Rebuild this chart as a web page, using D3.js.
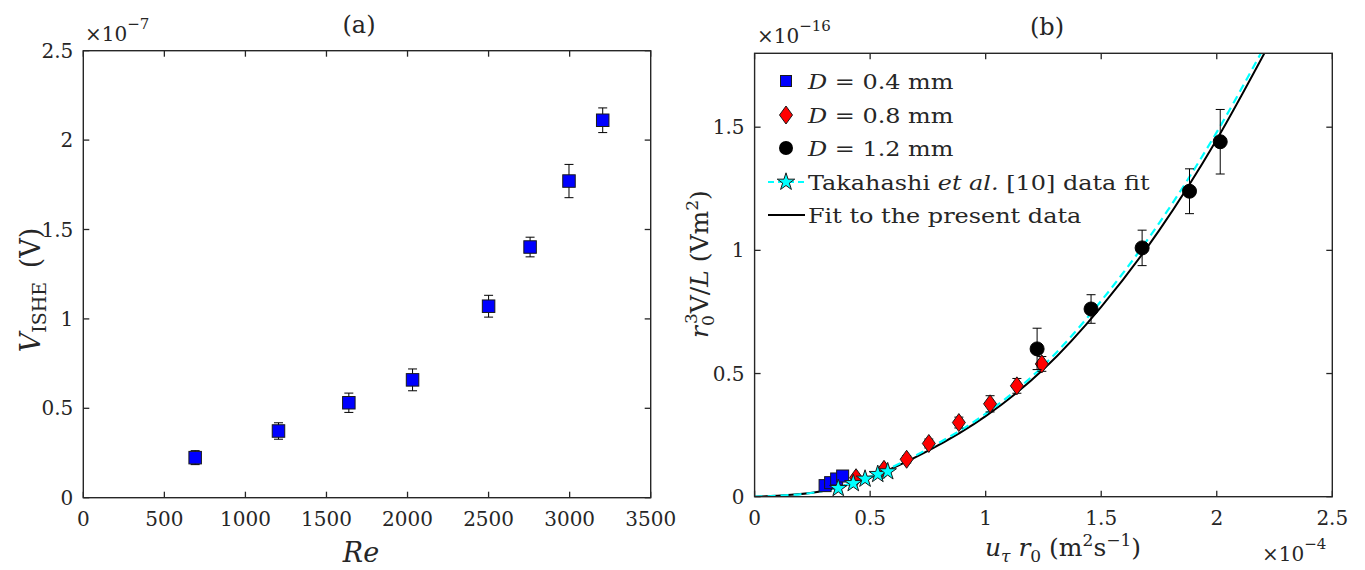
<!DOCTYPE html>
<html><head><meta charset="utf-8">
<script src="https://cdn.jsdelivr.net/npm/d3@7"></script>
<style>
html,body{margin:0;padding:0;background:#fff;}
svg text{font-family:"DejaVu Serif",serif;fill:#262626;}
</style></head>
<body>
<svg id="c" width="1365" height="570"></svg>
<script>
// ---------- DATA ----------
// Panel (a)
const reValues = [690, 1204, 1638, 2031, 2500, 2756, 2996, 3204];
const vIshe = [0.224, 0.373, 0.531, 0.659, 1.071, 1.402, 1.771, 2.111]; // x1e-7 V
const vIsheErr = [0.039, 0.046, 0.054, 0.061, 0.061, 0.055, 0.093, 0.069];
const aXTicks = [0, 500, 1000, 1500, 2000, 2500, 3000, 3500];
const aYTicks = [0, 0.5, 1, 1.5, 2, 2.5];
const aYTickLabels = ["0", "0.5", "1", "1.5", "2", "2.5"];

// Panel (b)  (x in 1e-4 m^2 s^-1, y in 1e-16 V m^2)
const sqU = [0.305, 0.329, 0.355, 0.381];
const sqV = [0.045, 0.057, 0.072, 0.084];
const diaU = [0.439, 0.560, 0.658, 0.754, 0.884, 1.019, 1.135, 1.243];
const diaV = [0.077, 0.111, 0.152, 0.216, 0.301, 0.377, 0.450, 0.539];
const diaErr = [0.010, 0.012, 0.015, 0.018, 0.022, 0.033, 0.030, 0.030];
const circU = [1.2225, 1.456, 1.677, 1.882, 2.015];
const circV = [0.600, 0.762, 1.010, 1.240, 1.441];
const circErr = [0.084, 0.058, 0.072, 0.091, 0.131];
const starU = [0.362, 0.427, 0.478, 0.533, 0.576];
const starV = [0.034, 0.054, 0.072, 0.091, 0.102];
const fitU = [0, 0.25, 0.5, 0.75, 1.0, 1.25, 1.5, 1.75, 2.0, 2.206];
const fitV = [0, 0.016, 0.079, 0.186, 0.327, 0.517, 0.771, 1.08, 1.45, 1.80];
const takU = [0, 0.25, 0.5, 0.75, 1.0, 1.25, 1.5, 1.75, 2.0, 2.191];
const takV = [0, 0.016, 0.082, 0.194, 0.337, 0.532, 0.795, 1.11, 1.48, 1.80];
const bXTicks = [0, 0.5, 1, 1.5, 2, 2.5];
const bXTickLabels = ["0", "0.5", "1", "1.5", "2", "2.5"];
const bYTicks = [0, 0.5, 1, 1.5];
const bYTickLabels = ["0", "0.5", "1", "1.5"];
const legendLabels = ["D = 0.4 mm", "D = 0.8 mm", "D = 1.2 mm", "Takahashi et al. [10] data fit", "Fit to the present data"];

// ---------- DRAW ----------
const svg = d3.select("#c");
const AX = "#262626";
const TICKFS = 20;

function frame(g, x, y, xt, xtl, yt, ytl) {
  const [x0, x1] = x.range(), [y0, y1] = y.range();
  const tl = 6;
  xt.forEach((t, i) => {
    const px = x(t);
    g.append("line").attr("x1", px).attr("x2", px).attr("y1", y0).attr("y2", y0 - tl).attr("stroke", AX).attr("stroke-width", 1.3);
    g.append("line").attr("x1", px).attr("x2", px).attr("y1", y1).attr("y2", y1 + tl).attr("stroke", AX).attr("stroke-width", 1.3);
    g.append("text").attr("x", px).attr("y", y0 + 28).attr("text-anchor", "middle").attr("font-size", TICKFS).text(xtl[i]);
  });
  yt.forEach((t, i) => {
    const py = y(t);
    g.append("line").attr("x1", x0).attr("x2", x0 + tl).attr("y1", py).attr("y2", py).attr("stroke", AX).attr("stroke-width", 1.3);
    g.append("line").attr("x1", x1).attr("x2", x1 - tl).attr("y1", py).attr("y2", py).attr("stroke", AX).attr("stroke-width", 1.3);
    g.append("text").attr("x", x0 - 10).attr("y", py + 7).attr("text-anchor", "end").attr("font-size", TICKFS).text(ytl[i]);
  });
  g.append("rect").attr("x", x0).attr("y", y1).attr("width", x1 - x0).attr("height", y0 - y1)
    .attr("fill", "none").attr("stroke", AX).attr("stroke-width", 1.4);
}

function errBars(g, xs, ys, es, x, y) {
  xs.forEach((u, i) => {
    const px = x(u), pt = y(ys[i] + es[i]), pb = y(ys[i] - es[i]);
    g.append("line").attr("x1", px).attr("x2", px).attr("y1", pt).attr("y2", pb).attr("stroke", "#000").attr("stroke-width", 1);
    [pt, pb].forEach(p => g.append("line").attr("x1", px - 4.5).attr("x2", px + 4.5).attr("y1", p).attr("y2", p).attr("stroke", "#000").attr("stroke-width", 1));
  });
}

// ===== Panel (a) =====
const ga = svg.append("g");
const xa = d3.scaleLinear().domain([0, 3500]).range([83.3, 650.7]);
const ya = d3.scaleLinear().domain([0, 2.5]).range([497.7, 50.7]);

errBars(ga, reValues, vIshe, vIsheErr, xa, ya);
const sqA = 12.5;
ga.selectAll("rect.pt").data(reValues).enter().append("rect")
  .attr("x", (d) => xa(d) - sqA / 2).attr("y", (d, i) => ya(vIshe[i]) - sqA / 2)
  .attr("width", sqA).attr("height", sqA).attr("fill", "#0000ff").attr("stroke", "#1a1a1a").attr("stroke-width", 1);
frame(ga, xa, ya, aXTicks, aXTicks.map(String), aYTicks, aYTickLabels);

{
  const t = ga.append("text").attr("x", 85).attr("y", 41).attr("font-size", 20);
  t.append("tspan").text("×10");
  t.append("tspan").attr("dy", -12).attr("font-size", 15).text("−7");
}
ga.append("text").attr("x", 359).attr("y", 33).attr("text-anchor", "middle").attr("font-size", 24).text("(a)");
ga.append("text").attr("x", 361).attr("y", 562).attr("text-anchor", "middle").attr("font-size", 27).attr("font-style", "italic").text("Re");
{
  const t = ga.append("text").attr("transform", "translate(40,290) rotate(-90)").attr("text-anchor", "middle").attr("font-size", 27);
  t.append("tspan").attr("font-style", "italic").text("V");
  t.append("tspan").attr("dy", 6).attr("font-size", 19).text("ISHE");
  t.append("tspan").attr("dy", -6).text("\u2002(V)");
}

// ===== Panel (b) =====
const gb = svg.append("g");
const xb = d3.scaleLinear().domain([0, 2.5]).range([754.6, 1332.3]);
const yb = d3.scaleLinear().domain([0, 1.8]).range([496.7, 53.3]);

gb.append("clipPath").attr("id", "clipb").append("rect")
  .attr("x", 754.6).attr("y", 53.3).attr("width", 1332.3 - 754.6).attr("height", 496.7 - 53.3);
const lineGen = d3.line().curve(d3.curveMonotoneX);
gb.append("path").attr("clip-path", "url(#clipb)")
  .attr("d", lineGen(fitU.map((u, i) => [xb(u), yb(fitV[i])])))
  .attr("fill", "none").attr("stroke", "#000").attr("stroke-width", 2);
gb.append("path").attr("clip-path", "url(#clipb)")
  .attr("d", lineGen(takU.map((u, i) => [xb(u), yb(takV[i])])))
  .attr("fill", "none").attr("stroke", "#00ffff").attr("stroke-width", 2.2).attr("stroke-dasharray", "8,5");

const sqB = 12;
gb.selectAll("rect.sq").data(sqU).enter().append("rect")
  .attr("x", d => xb(d) - sqB / 2).attr("y", (d, i) => yb(sqV[i]) - sqB / 2)
  .attr("width", sqB).attr("height", sqB).attr("fill", "#0000ff").attr("stroke", "#1a1a1a").attr("stroke-width", 1);

errBars(gb, diaU, diaV, diaErr, xb, yb);
const diamondPath = (cx, cy) => `M${cx},${cy - 9}L${cx + 6.5},${cy}L${cx},${cy + 9}L${cx - 6.5},${cy}Z`;
gb.selectAll("path.dia").data(diaU).enter().append("path")
  .attr("d", (d, i) => diamondPath(xb(d), yb(diaV[i])))
  .attr("fill", "#ff0000").attr("stroke", "#1a1a1a").attr("stroke-width", 1);

errBars(gb, circU, circV, circErr, xb, yb);
gb.selectAll("circle.c").data(circU).enter().append("circle")
  .attr("cx", d => xb(d)).attr("cy", (d, i) => yb(circV[i])).attr("r", 7)
  .attr("fill", "#000").attr("stroke", "#000");

const starSym = d3.symbol().type(d3.symbolStar).size(95);
gb.selectAll("path.st").data(starU).enter().append("path")
  .attr("transform", (d, i) => `translate(${xb(d)},${yb(starV[i])})`)
  .attr("d", starSym).attr("fill", "#00ffff").attr("stroke", "#1a1a1a").attr("stroke-width", 1);

frame(gb, xb, yb, bXTicks, bXTickLabels, bYTicks, bYTickLabels);

{
  const t = gb.append("text").attr("x", 757).attr("y", 43).attr("font-size", 20);
  t.append("tspan").text("×10");
  t.append("tspan").attr("dy", -12).attr("font-size", 15).text("−16");
}
{
  const t = gb.append("text").attr("x", 1262).attr("y", 561).attr("font-size", 20);
  t.append("tspan").text("×10");
  t.append("tspan").attr("dy", -12).attr("font-size", 15).text("−4");
}
gb.append("text").attr("x", 1047).attr("y", 35).attr("text-anchor", "middle").attr("font-size", 24).text("(b)");
{
  const t = gb.append("text").attr("x", 1063).attr("y", 556).attr("text-anchor", "middle").attr("font-size", 25);
  t.append("tspan").attr("font-style", "italic").text("u");
  t.append("tspan").attr("dy", 6).attr("font-size", 17).attr("font-style", "italic").text("τ");
  t.append("tspan").attr("dy", -6).attr("font-style", "italic").text(" r");
  t.append("tspan").attr("dy", 6).attr("font-size", 17).text("0");
  t.append("tspan").attr("dy", -6).text(" (m");
  t.append("tspan").attr("dy", -10).attr("font-size", 17).text("2");
  t.append("tspan").attr("dy", 10).text("s");
  t.append("tspan").attr("dy", -10).attr("font-size", 17).text("−1");
  t.append("tspan").attr("dy", 10).text(")");
}
{
  const t = gb.append("text").attr("transform", "translate(708,264) rotate(-90)").attr("text-anchor", "middle").attr("font-size", 25);
  t.append("tspan").attr("font-style", "italic").text("r");
  t.append("tspan").attr("dy", 6).attr("font-size", 17).text("0");
  t.append("tspan").attr("dy", -17).attr("dx", -9).attr("font-size", 17).text("3");
  t.append("tspan").attr("dy", 11).text("V/");
  t.append("tspan").attr("font-style", "italic").text("L");
  t.append("tspan").text(" (Vm");
  t.append("tspan").attr("dy", -10).attr("font-size", 17).text("2");
  t.append("tspan").attr("dy", 10).text(")");
}

// legend
const lg = gb.append("g");
const legX = 786, legY = [81, 115, 148, 182, 215], legTx = 808;
lg.append("rect").attr("x", legX - 5.5).attr("y", legY[0] - 5.5).attr("width", 11).attr("height", 11)
  .attr("fill", "#0000ff").attr("stroke", "#1a1a1a").attr("stroke-width", 1);
lg.append("path").attr("d", diamondPath(legX, legY[1])).attr("fill", "#ff0000").attr("stroke", "#1a1a1a");
lg.append("circle").attr("cx", legX).attr("cy", legY[2]).attr("r", 7).attr("fill", "#000");
lg.append("line").attr("x1", 768).attr("x2", 805).attr("y1", legY[3]).attr("y2", legY[3])
  .attr("stroke", "#00ffff").attr("stroke-width", 2).attr("stroke-dasharray", "6,4");
lg.append("path").attr("transform", `translate(${legX},${legY[3]})`).attr("d", starSym)
  .attr("fill", "#00ffff").attr("stroke", "#1a1a1a");
lg.append("line").attr("x1", 768).attr("x2", 805).attr("y1", legY[4]).attr("y2", legY[4])
  .attr("stroke", "#000").attr("stroke-width", 2);

const LFS = 21;
legendLabels.forEach((lab, i) => {
  const t = lg.append("text").attr("transform", `translate(${legTx},${legY[i] + 8}) scale(1.14,1)`).attr("font-size", LFS);
  if (i < 3) {
    t.append("tspan").attr("font-style", "italic").text(lab.slice(0, 1));
    t.append("tspan").text(lab.slice(1));
  } else if (i === 3) {
    t.append("tspan").text("Takahashi ");
    t.append("tspan").attr("font-style", "italic").text("et al.");
    t.append("tspan").text(" [10] data fit");
  } else {
    t.text(lab);
  }
});
</script>
</body></html>
